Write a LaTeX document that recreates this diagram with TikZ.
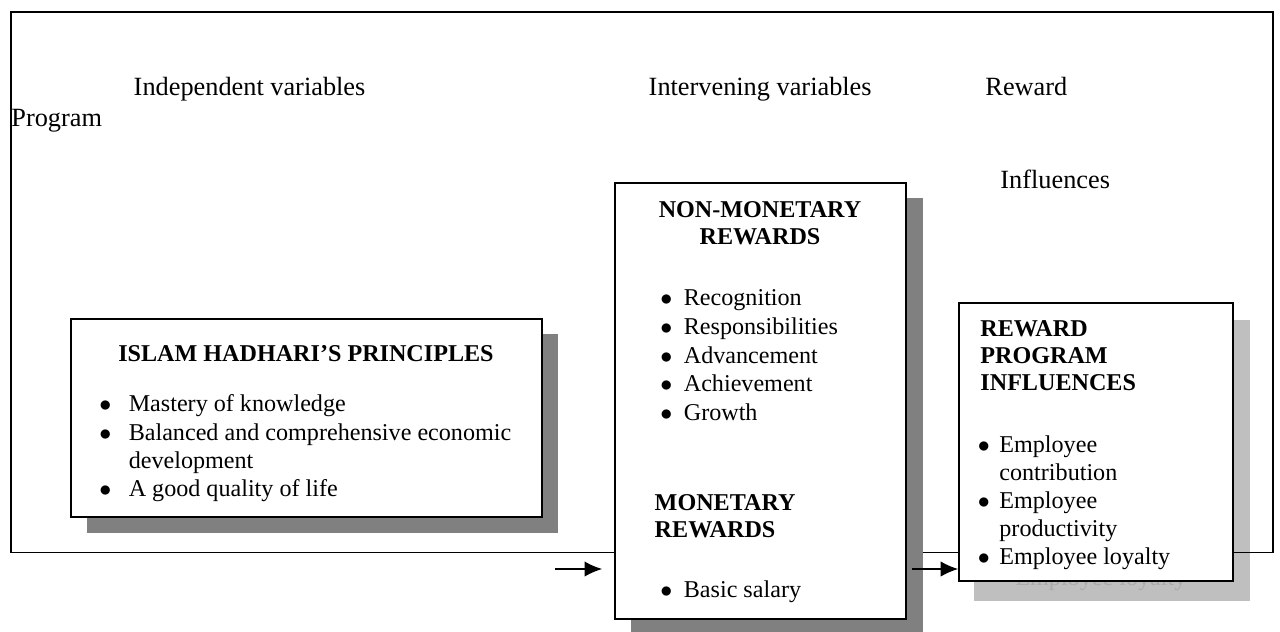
\documentclass[tikz,border=0pt]{standalone}
\usepackage{fontspec}
\setmainfont{Liberation Serif}
\usetikzlibrary{arrows.meta,fit}

\tikzset{
  lbl/.style={font=\fontsize{12}{14}\selectfont, inner sep=0pt, anchor=base west},
  head/.style={font=\fontsize{11}{12.4}\selectfont\bfseries, inner sep=0pt},
  items/.style={font=\fontsize{11}{13}\selectfont, inner sep=0pt, anchor=base west},
  box/.style={draw, line width=0.75pt, fill=white, inner sep=0pt},
  shade/.style={fill=black!50},
  paleshade/.style={fill=black!25},
  arr/.style={line width=0.65pt, -{Latex[length=8pt,width=7pt]}},
}
\newcommand{\bul}{$\bullet$}

\begin{document}
\begin{tikzpicture}[x=0.456pt, y=-0.456pt]
\useasboundingbox (0,0) rectangle (1280,631);

% pale shadow of the outcome box, with its text showing through
\fill[paleshade] (974,320) rectangle (1250,601);
\node[items, text=black!33] (echo) at (1015,585) {Employee loyalty};

% outer frame
\draw[line width=0.8pt] (11,12) rectangle (1273,552.5);

% column headings
\node[lbl] (indep) at (133.3,95) {Independent variables};
\node[lbl] (prog) at (11,126.7) {Program};
\node[lbl] (interv) at (648.3,95) {Intervening variables};
\node[lbl] (reward) at (985,95) {Reward};
\node[lbl] (infl) at (1000,188) {Influences};

% independent variables
\fill[shade] (87,334) rectangle (558,532.5);
\node[box, fit={(71,319) (542,517)}] (hadhari) {};
\node[head, anchor=base] (hadhari title) at (306,361.7) {ISLAM HADHARI’S PRINCIPLES};
\node[items, font=\fontsize{11}{12.9}\selectfont] (hadhari list) at (99,411.7) {%
  \begin{tabular}[t]{@{}l@{\hspace{7.9pt}}l@{}}
  \bul & Mastery of knowledge\\
  \bul & Balanced and comprehensive economic\\
       & development\\
  \bul & A good quality of life
  \end{tabular}};

% intervening variables
\fill[shade] (631,198) rectangle (923,640);
\node[box, fit={(615,183) (906,619)}] (rewards) {};
\node[head, anchor=base] (nonmon) at (760,217) {%
  \begin{tabular}[t]{@{}c@{}}NON-MONETARY\\REWARDS\end{tabular}};
\node[items, font=\fontsize{11}{13.1}\selectfont] (nonmon list) at (660,305.7) {%
  \begin{tabular}[t]{@{}l@{\hspace{5.2pt}}l@{}}
  \bul & Recognition\\
  \bul & Responsibilities\\
  \bul & Advancement\\
  \bul & Achievement\\
  \bul & Growth
  \end{tabular}};
\node[head, anchor=base west] (mon) at (654.3,510) {%
  \begin{tabular}[t]{@{}l@{}}MONETARY\\REWARDS\end{tabular}};
\node[items] (mon list) at (660,597) {%
  \begin{tabular}[t]{@{}l@{\hspace{5.2pt}}l@{}}
  \bul & Basic salary
  \end{tabular}};

% outcome
\node[box, fit={(959,303) (1233,581)}] (influences) {};
\node[head, anchor=base west] (infl title) at (980,336) {%
  \begin{tabular}[t]{@{}l@{}}REWARD\\PROGRAM\\INFLUENCES\end{tabular}};
\node[items, font=\fontsize{11}{12.7}\selectfont] (infl list) at (977.3,452.7) {%
  \begin{tabular}[t]{@{}l@{\hspace{4.4pt}}l@{}}
  \bul & Employee\\
       & contribution\\
  \bul & Employee\\
       & productivity\\
  \bul & Employee loyalty
  \end{tabular}};

% arrows
\coordinate (feed) at (555,569);
\draw[arr, shorten >=5.5pt] (feed) -- (feed -| rewards.west);
\draw[arr, shorten <=2.3pt] (feed -| rewards.east) -- (feed -| influences.west);
\end{tikzpicture}
\end{document}
